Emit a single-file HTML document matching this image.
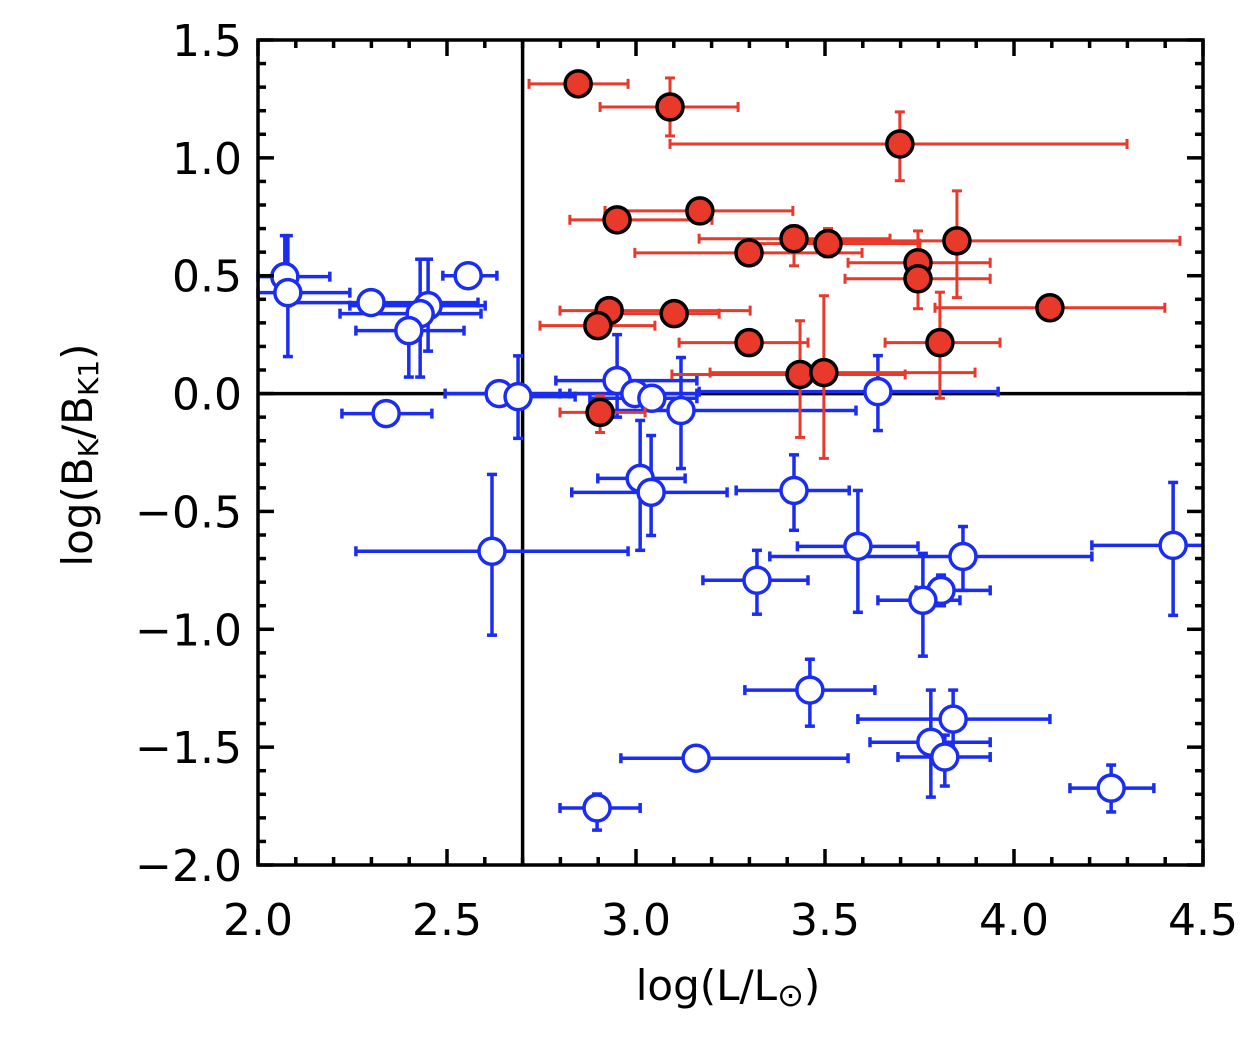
<!DOCTYPE html>
<html><head><meta charset="utf-8"><style>
html,body{margin:0;padding:0;background:#fff;}
svg{display:block;font-family:"DejaVu Sans","Liberation Sans",sans-serif;}
</style></head><body>
<svg id="chart" width="1256" height="1050" viewBox="0 0 1256 1050" xmlns="http://www.w3.org/2000/svg">
<g id="marks"></g>
<g id="axes"></g>
<text x="728" y="1000" font-size="42" text-anchor="middle">log(L/L<tspan font-size="32" dy="6">⊙</tspan><tspan dy="-6">)</tspan></text>
<text transform="translate(92,455) rotate(-90)" font-size="42" text-anchor="middle">log(B<tspan font-size="28" dy="6">K</tspan><tspan dy="-6">/B</tspan><tspan font-size="28" dy="6">K1</tspan><tspan dy="-6">)</tspan></text>
</svg>
<script>
// Red (filled) series
const redX  = [2.847,3.090,3.698,2.950,3.169,3.299,3.418,3.508,3.746,3.746,3.849,4.095,2.929,2.899,3.101,3.299,3.804,3.434,3.497,2.905];
const redY  = [1.314,1.216,1.059,0.737,0.775,0.597,0.657,0.636,0.555,0.487,0.648,0.364,0.352,0.288,0.339,0.216,0.216,0.081,0.089,-0.080];
const redXlo= [2.717,2.905,3.090,2.825,2.918,2.997,3.167,3.315,3.561,3.553,3.434,3.791,2.799,2.746,2.918,3.114,3.659,3.095,3.196,2.799];
const redXhi= [2.979,3.270,4.299,3.201,3.415,3.598,3.672,3.751,3.937,3.937,4.439,4.399,3.302,3.050,3.220,3.455,3.963,3.712,3.897,3.024];
const redYlo= [1.314,1.093,0.903,0.737,0.775,0.597,0.542,0.580,0.480,0.360,0.407,0.364,0.352,0.288,0.339,0.216,-0.020,-0.186,-0.275,-0.165];
const redYhi= [1.314,1.339,1.195,0.737,0.775,0.597,0.712,0.700,0.690,0.540,0.860,0.364,0.352,0.288,0.339,0.216,0.430,0.309,0.415,-0.010];
// Blue (open) series
const bluX  = [2.071,2.079,2.299,2.450,2.429,2.399,2.556,2.339,2.638,2.688,2.950,2.997,3.042,3.119,3.640,3.011,3.040,3.418,2.619,3.587,4.421,3.865,3.320,3.807,3.759,3.460,3.839,3.780,3.817,3.159,4.257,2.897];
const bluY  = [0.496,0.428,0.386,0.373,0.339,0.267,0.500,-0.085,0.000,-0.013,0.055,0.000,-0.020,-0.072,0.008,-0.360,-0.419,-0.411,-0.669,-0.648,-0.644,-0.691,-0.792,-0.835,-0.877,-1.258,-1.381,-1.479,-1.542,-1.547,-1.674,-1.758];
const bluXlo= [2.000,2.000,2.085,2.243,2.217,2.259,2.489,2.222,2.495,2.608,2.788,2.799,2.878,2.894,3.167,2.899,2.830,3.265,2.259,3.427,4.206,3.354,3.177,3.741,3.640,3.288,3.587,3.619,3.693,2.960,4.148,2.799];
const bluXhi= [2.190,2.243,2.582,2.601,2.590,2.545,2.632,2.460,2.825,2.839,3.161,3.161,3.161,3.582,3.958,3.130,3.241,3.564,2.979,3.746,4.600,4.206,3.455,3.937,3.857,3.632,4.095,3.937,3.937,3.561,4.370,3.011];
const bluYlo= [0.400,0.157,0.386,0.180,0.070,0.070,0.470,-0.085,0.000,-0.190,-0.100,0.000,-0.020,-0.318,-0.157,-0.665,-0.602,-0.580,-1.025,-0.928,-0.941,-0.835,-0.936,-0.900,-1.114,-1.411,-1.542,-1.712,-1.665,-1.547,-1.775,-1.852];
const bluYhi= [0.670,0.670,0.386,0.570,0.570,0.267,0.530,-0.085,0.000,0.160,0.250,0.000,-0.020,0.153,0.161,-0.114,-0.178,-0.260,-0.343,-0.411,-0.377,-0.564,-0.665,-0.770,-0.678,-1.127,-1.258,-1.258,-1.449,-1.547,-1.576,-1.699];
const xTicks = ["2.0","2.5","3.0","3.5","4.0","4.5"];
const yTicks = ["−2.0","−1.5","−1.0","−0.5","0.0","0.5","1.0","1.5"];

const L=258,R=1203,T=40,B=865, X0=2.0,X1=4.5,Y0=-2.0,Y1=1.5;
const sx=v=>L+(v-X0)/(X1-X0)*(R-L);
const sy=v=>B-(v-Y0)/(Y1-Y0)*(B-T);
const NS="http://www.w3.org/2000/svg";
const marks=document.getElementById('marks'), axes=document.getElementById('axes');
function mk(tag,attrs,parent){const e=document.createElementNS(NS,tag);for(const k in attrs)e.setAttribute(k,attrs[k]);parent.appendChild(e);return e;}

let rl=mk('line',{x1:L,x2:R,y1:sy(0),y2:sy(0),stroke:'#000','stroke-width':3.5},marks);


let vl=mk('line',{x1:sx(2.7),x2:sx(2.7),y1:T,y2:B,stroke:'#000','stroke-width':3.5},marks);



function drawSeries(xs,ys,xlo,xhi,ylo,yhi,col,filled,name){
  const g=mk('g',{},marks);
  
  
  const cap=5;
  for(let i=0;i<xs.length;i++){
    const eg=mk('g',{stroke:col,'stroke-width':filled?3:3.5},g);
    
    
    const x=sx(xs[i]),y=sy(ys[i]);
    const a=Math.max(L,sx(xlo[i])),b=Math.min(R,sx(xhi[i]));
    if(b-a>1){mk('line',{x1:a,x2:b,y1:y,y2:y},eg);
      if(sx(xlo[i])>=L) mk('line',{x1:a,x2:a,y1:y-cap,y2:y+cap},eg);
      if(sx(xhi[i])<=R) mk('line',{x1:b,x2:b,y1:y-cap,y2:y+cap},eg);}
    const c=sy(ylo[i]),d=sy(yhi[i]);
    if(c-d>1){mk('line',{x1:x,x2:x,y1:c,y2:d},eg);
      mk('line',{x1:x-cap,x2:x+cap,y1:c,y2:c},eg);
      mk('line',{x1:x-cap,x2:x+cap,y1:d,y2:d},eg);}
  }
  for(let i=0;i<xs.length;i++){
    const p=mk('circle',{cx:sx(xs[i]),cy:sy(ys[i]),r:13,fill:filled?col:'#fff',stroke:filled?'#000':col,'stroke-width':3.5},g);
    
    
  }
}
drawSeries(bluX,bluY,bluXlo,bluXhi,bluYlo,bluYhi,'#1a2df0',false,'blue');
drawSeries(redX,redY,redXlo,redXhi,redYlo,redYhi,'#e8392a',true,'red');

let fr=mk('rect',{x:L,y:T,width:R-L,height:B-T,fill:'none',stroke:'#000','stroke-width':3.5},axes);


for(let k=0;k<=25;k++){
  const v=X0+k*0.1,x=sx(v),len=(k%5===0)?16:8;
  mk('line',{x1:x,x2:x,y1:B,y2:B-len,stroke:'#000','stroke-width':3.5},axes);
  mk('line',{x1:x,x2:x,y1:T,y2:T+len,stroke:'#000','stroke-width':3.5},axes);
}
for(let k=0;k<=35;k++){
  const v=Y0+k*0.1,y=sy(v),len=(k%5===0)?16:8;
  mk('line',{x1:L,x2:L+len,y1:y,y2:y,stroke:'#000','stroke-width':3.5},axes);
  mk('line',{x1:R,x2:R-len,y1:y,y2:y,stroke:'#000','stroke-width':3.5},axes);
}
xTicks.forEach((t,i)=>{
  const e=mk('text',{x:sx(X0+i*0.5),y:935,'font-size':44,'text-anchor':'middle'},axes);
  e.textContent=t;
  
  
});
yTicks.forEach((t,i)=>{
  const e=mk('text',{x:242,y:sy(Y0+i*0.5)+16,'font-size':44,'text-anchor':'end'},axes);
  e.textContent=t;
  
  
});
</script>
</body></html>
